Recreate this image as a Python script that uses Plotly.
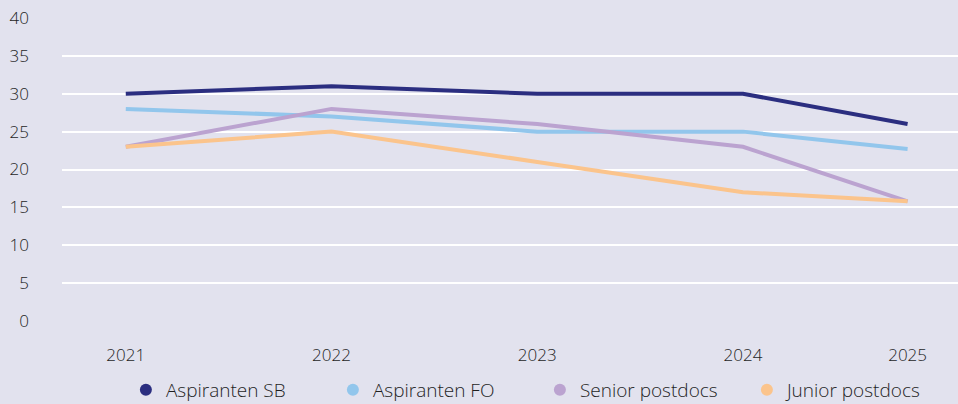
import plotly.graph_objects as go

years = ["2021", "2022", "2023", "2024", "2025"]
x_pos = [0, 1, 2, 3, 3.8]

aspiranten_sb = [30, 31, 30, 30, 26]
aspiranten_fo = [28, 27, 25, 25, 22.7]
senior_postdocs = [23, 28, 26, 23, 15.8]
junior_postdocs = [23, 25, 21, 17, 15.8]

series = [
    ("Aspiranten SB", aspiranten_sb, "#2b2e80"),
    ("Aspiranten FO", aspiranten_fo, "#92c6ec"),
    ("Senior postdocs", senior_postdocs, "#bba3d0"),
    ("Junior postdocs", junior_postdocs, "#fbc48c"),
]

y_ticks = [0, 5, 10, 15, 20, 25, 30, 35, 40]

fig = go.Figure()
for name, vals, color in series:
    fig.add_trace(go.Scatter(
        x=x_pos, y=vals, name=name, mode="lines",
        line=dict(color=color, width=4), showlegend=False,
        legendgroup=name,
    ))
for name, vals, color in series:
    fig.add_trace(go.Scatter(
        x=[None], y=[None], name=name, mode="markers",
        marker=dict(color=color, size=8), showlegend=True,
        legendgroup=name,
    ))

bg = "#e2e2ee"
font_color = "#1f1f1f"
fig.update_layout(
    width=958, height=404,
    paper_bgcolor=bg, plot_bgcolor=bg,
    margin=dict(l=62, r=0, t=18, b=83),
    font=dict(family="Open Sans", size=17, color=font_color, weight=300),
    showlegend=True,
    legend=dict(
        orientation="h", x=0.0713, xanchor="left",
        yref="container", y=0.035, yanchor="middle",
        font=dict(size=19, color=font_color, weight=300),
        entrywidth=162, itemwidth=30, itemsizing="constant",
        bgcolor="rgba(0,0,0,0)",
    ),
    xaxis=dict(
        range=[-0.31, 4.045], tickvals=x_pos, ticktext=years,
        showgrid=False, zeroline=False, showline=False,
        ticks="", ticklabelstandoff=22, automargin=False,
        tickfont=dict(size=17, color=font_color, weight=300),
    ),
    yaxis=dict(
        range=[0, 40], tickvals=y_ticks,
        showgrid=True, gridcolor="#ffffff", gridwidth=1.5,
        zeroline=False, showline=False, ticks="",
        ticklabelstandoff=32, automargin=False,
        tickfont=dict(size=17, color=font_color, weight=300),
    ),
)

fig.write_html(
    "out.html",
    config={"displayModeBar": False},
    post_script="document.body.style.margin='0';document.body.style.padding='0';",
)
